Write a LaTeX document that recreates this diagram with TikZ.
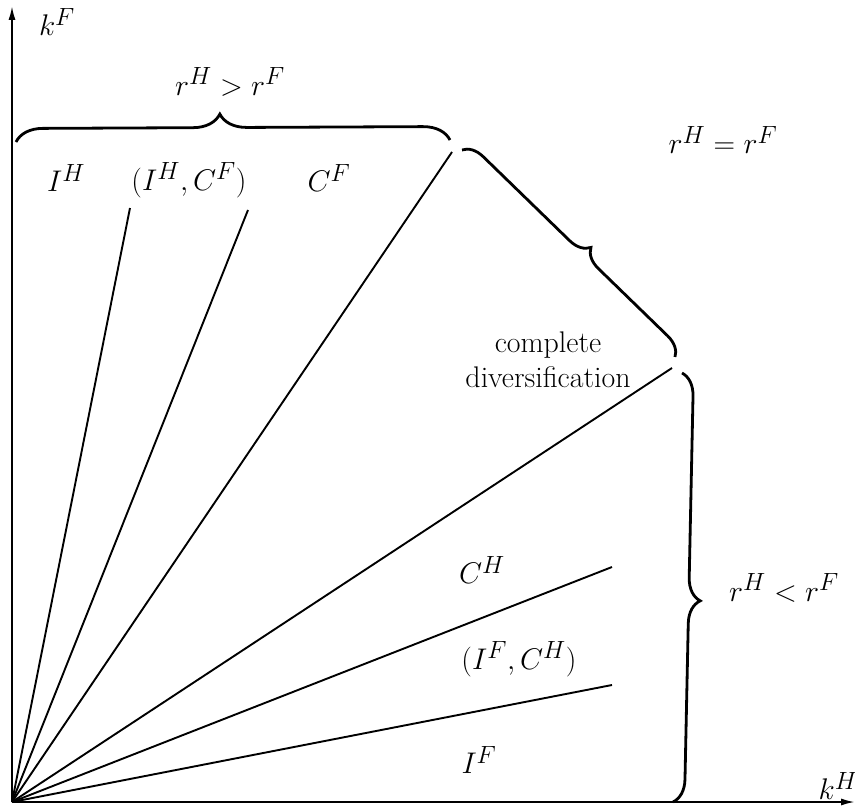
\documentclass[tikz,border=0pt]{standalone}
\usetikzlibrary{decorations.pathreplacing,arrows.meta}
\begin{document}
\begin{tikzpicture}[x=1pt,y=-1pt,
  every node/.style={font=\fontsize{24.88}{29}\selectfont, inner sep=0pt, scale=1.2},
  ray/.style={line width=1.9pt},
  axis/.style={line width=1.9pt,-{Latex[length=14pt,width=7pt]}},
  bracebig/.style={line width=2.8pt,decorate,decoration={brace,#1}}]
\useasboundingbox (0,0) rectangle (855,808);
\coordinate (O) at (12,802);
\coordinate (xend) at (855,802);
\coordinate (yend) at (12,6);
\draw[axis] (O) -- (xend);
\draw[axis] (O) -- (yend);
\node (kF) at (57,22) {$k^F$};
\node (kH) at (838,786) {$k^H$};
% rays
\coordinate (r1) at (130,208);
\coordinate (r2) at (248,210);
\coordinate (r3) at (452,152);
\coordinate (r4) at (672,368);
\coordinate (r5) at (612,567);
\coordinate (r6) at (612,685);
\foreach \p in {r1,r2,r3,r4,r5,r6} \draw[ray] (O) -- (\p);
% braces
\coordinate (b1s) at (16,142);
\coordinate (b1e) at (450,140);
\coordinate (b2s) at (462,150);
\coordinate (b2e) at (675,357);
\coordinate (b3s) at (682,373);
\coordinate (b3e) at (673,802);
\draw[bracebig={aspect=0.47,amplitude=27pt}] (b1s) -- (b1e);
\draw[bracebig={aspect=0.54,amplitude=20pt}] (b2s) -- (b2e);
\draw[bracebig={aspect=0.53,amplitude=23pt}] (b3s) -- (b3e);
% labels
\node (gt) at (230,82) {$r^H > r^F$};
\node (eq) at (723,140) {$r^H = r^F$};
\node (lt) at (784,588) {$r^H < r^F$};
\node (IH) at (66,178) {$I^H$};
\node (IHCF) at (189,180) {$(I^H,C^F)$};
\node (CF) at (329,178) {$C^F$};
\node[align=center] (cd) at (548,360) {complete\\diversification};
\node (CH) at (482,570) {$C^H$};
\node (IFCH) at (519,659) {$(I^F,C^H)$};
\node (IF) at (479,760) {$I^F$};
\end{tikzpicture}
\end{document}
